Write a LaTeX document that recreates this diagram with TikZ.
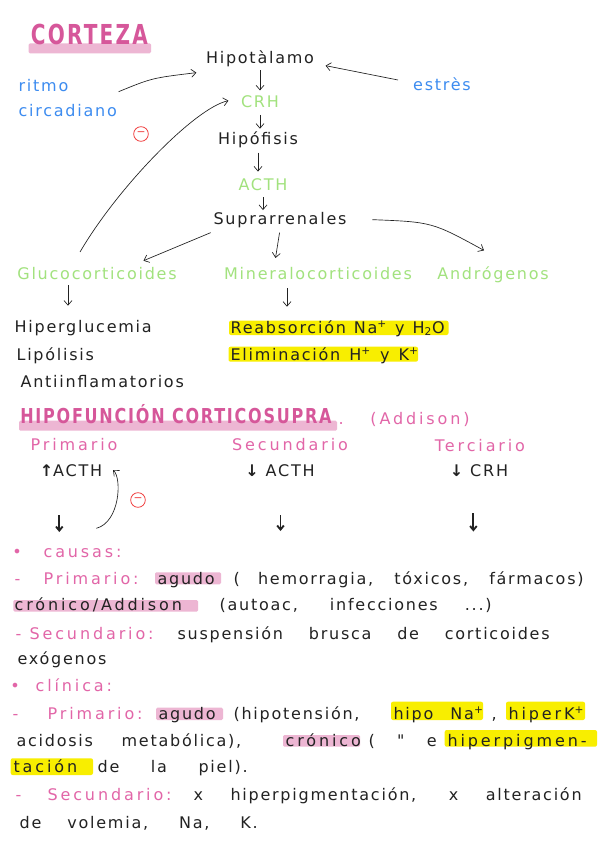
\documentclass[tikz,border=0pt]{standalone}
\usepackage{fontspec}
\setmainfont{DejaVu Sans}[LetterSpace=11]
\newfontfamily\pspc{DejaVu Sans}[LetterSpace=18]
\usetikzlibrary{arrows.meta}
\definecolor{inkc}{HTML}{222222}
\definecolor{bluec}{HTML}{3D8CF0}
\definecolor{greenc}{HTML}{A2E27E}
\definecolor{titlec}{HTML}{D6579A}
\definecolor{pinkc}{HTML}{E266A8}
\definecolor{pinkhl}{HTML}{EDB6D3}
\definecolor{yellowc}{HTML}{F8EE00}
\definecolor{redc}{HTML}{F03C3C}
\newcommand\spr[2]{\hbox to \dimexpr #1pt*3/4\relax{#2}}
\begin{document}
\begin{tikzpicture}[x=0.75pt,y=-0.75pt,
  basest/.style={inner sep=1pt, text height=9pt, text depth=2.5pt, font=\fontsize{12}{14}\selectfont},
  txt/.style={basest, text=inkc},
  blu/.style={basest, text=bluec},
  grn/.style={basest, text=greenc},
  pnk/.style={basest, text=pinkc, font=\fontsize{12}{14}\selectfont\pspc},
  arr/.style={draw=inkc, line width=0.5pt, -{Straight Barb[length=3.5pt,width=6pt]}},
  bigarr/.style={draw=inkc, line width=1.4pt, -{Straight Barb[length=3pt,width=5pt]}},
  minus/.style={circle, draw=redc, line width=0.6pt, minimum size=11pt, inner sep=0pt, text=redc, font=\fontsize{8}{8}\selectfont},
  hly/.style={fill=yellowc, rounded corners=1.5pt},
  hlp/.style={fill=pinkhl, rounded corners=1pt},
]
\useasboundingbox (0,0) rectangle (600,848);
\fill[white] (0,0) rectangle (600,848);

% ---------- title ----------
\fill[hlp] (28.7,43.3) rectangle (151,53.3);
\node[anchor=base west, text=titlec, inner sep=0pt, font=\fontsize{20.6}{22}\selectfont\bfseries] (corteza) at (30.6,45) {\scalebox{0.73}[1]{CORTEZA}};

% ---------- flow chart ----------
\node[txt, anchor=base] (hipo) at (260,64) {Hipotàlamo};
\node[blu, anchor=base west] (ritmo) at (17,92) {ritmo};
\node[blu, anchor=base west] (circ) at (17,117) {circadiano};
\node[blu, anchor=base] (estres) at (442,91) {estrès};
\node[grn, anchor=base] (crh) at (260,108) {CRH};
\node[txt, anchor=base] (hipof) at (258,145) {Hipófisis};
\node[grn, anchor=base] (acth) at (263,190.5) {ACTH};
\node[txt, anchor=base] (supra) at (280,225) {Suprarrenales};
\node[grn, anchor=base] (gluco) at (97,279) {Glucocorticoides};
\node[grn, anchor=base] (mineral) at (318,279) {Mineralocorticoides};
\node[grn, anchor=base] (andro) at (493,279) {Andrógenos};

\node[txt, anchor=base west] (hiperg) at (13,332.5) {Hiperglucemia};
\node[txt, anchor=base west] (lipo) at (15,360) {Lipólisis};
\node[txt, anchor=base west] (antii) at (19,387) {Antiinflamatorios};
\fill[hly] (229,320.7) rectangle (448.5,335);
\node[txt, anchor=base west] (reab) at (229,333) {\spr{214}{Reabsorción Na\textsuperscript{+} y H\textsubscript{2}O}};
\fill[hly] (228.5,346.7) rectangle (418,361.7);
\node[txt, anchor=base west] (elim) at (229,360) {\spr{188}{Eliminación H\textsuperscript{+} y K\textsuperscript{+}}};

\coordinate (ritmoend) at (118.6,91.7);
\draw[arr] (ritmoend) .. controls (152,78) .. ([shift={(-8,13)}]hipo.west);
\coordinate (estresend) at (398,80);
\draw[arr] (estresend) -- ([shift={(10,6)}]hipo.east);
\draw[arr, shorten <=1pt, shorten >=3pt] (hipo.south) -- (hipo.south |- crh.north);
\draw[arr, shorten <=1.5pt, shorten >=2pt] (crh.south) -- (crh.south |- hipof.north);
\draw[arr, shorten <=2pt, shorten >=4pt] (hipof.south) -- (hipof.south |- acth.north);
\draw[arr, shorten <=1.5pt, shorten >=1pt] (acth.south) -- (acth.south |- supra.north);
\draw[arr] ([shift={(-1.3,12)}]supra.west) -- ([shift={(46.5,-4.7)}]gluco.north);
\draw[arr, shorten <=2pt] (supra.south) -- ([shift={(-42.5,-7.4)}]mineral.north);
\draw[arr] ([shift={(24.3,-1)}]supra.east) .. controls (432,222) .. ([shift={(-9,-15)}]andro.north);
\coordinate (fbstart) at (80,252);
\draw[arr] (fbstart) .. controls (118,187) and (195,108) .. ([shift={(-11,-3)}]crh.west);
\node[minus] (m1) at (141,134) {−};
\coordinate (ga) at ([shift={(-29,1.3)}]gluco.south);
\draw[arr, shorten >=9.9pt] (ga) -- (ga |- hiperg.north);
\coordinate (ma) at ([shift={(-31,4.3)}]mineral.south);
\draw[arr, shorten >=9.5pt] (ma) -- (ma |- reab.north);

% ---------- hipofuncion ----------
\fill[hlp] (19,420.7) rectangle (337,430.7);
\node[anchor=base west, text=titlec, inner sep=0pt, font=\fontsize{15.4}{17}\selectfont\bfseries] (hipofun) at (20,423.3) {\scalebox{0.78}[1]{HIPOFUNCIÓN CORTICOSUPRA}};
\node[pnk, anchor=base west] (addison) at (337,424) {\spr{131}{. (Addison)}};

\node[pnk, anchor=base] (prim) at (74,450) {Primario};
\node[pnk, anchor=base] (secu) at (290,450) {Secundario};
\node[pnk, anchor=base] (terc) at (480,451) {Terciario};
\node[txt, anchor=base] (actup) at (71,476) {{\bfseries ↑}ACTH};
\node[txt, anchor=base] (actdn) at (280,476) {{\bfseries ↓} ACTH};
\node[txt, anchor=base] (crhdn) at (479,476) {{\bfseries ↓} CRH};

\coordinate (loopstart) at (96.4,528.3);
\coordinate (loopend) at (113,470);
\draw[arr] (loopstart) .. controls (120,522) and (122,478) .. (loopend);
\node[minus] (m2) at (138,500) {−};

\coordinate (d1a) at (59.3,515);  \coordinate (d1b) at (59.3,532);
\coordinate (d2a) at (280.5,515); \coordinate (d2b) at (280.5,531);
\coordinate (d3a) at (473.4,513); \coordinate (d3b) at (473.4,531.5);
\draw[bigarr] (d1a) -- (d1b);
\draw[bigarr] (d2a) -- (d2b);
\draw[bigarr] (d3a) -- (d3b);

% ---------- causas ----------
\node[pnk, anchor=base] (bul1) at (17,557.3) {•};
\node[pnk, anchor=base west] (causas) at (42,557.3) {causas:};
\node[pnk, anchor=base west] (p1lab) at (13,584) {\spr{124}{- Primario:}};
\fill[hlp] (155,572.3) rectangle (221,584.3);
\node[txt, anchor=base west] (agudo1) at (156,584) {agudo};
\node[txt, anchor=base west] (p1rest) at (232,584) {\spr{350}{( hemorragia, tóxicos, fármacos)}};
\fill[hlp] (13.4,600) rectangle (198,611.7);
\node[txt, anchor=base west, font=\fontsize{12}{14}\selectfont\pspc] (cron1) at (13,610.7) {crónico/Addison};
\node[txt, anchor=base west] (cron1rest) at (218,610.7) {\spr{272}{(autoac, infecciones ...)}};
\node[pnk, anchor=base west] (s1lab) at (14,639.3) {\spr{138}{- Secundario:}};
\node[txt, anchor=base west] (s1rest) at (176,639.3) {\spr{372}{suspensión brusca de corticoides}};
\node[txt, anchor=base west] (exog) at (16,664) {exógenos};

% ---------- clinica ----------
\node[pnk, anchor=base] (bul2) at (15,691.7) {•};
\node[pnk, anchor=base west] (clin) at (34,691.7) {clínica:};
\node[pnk, anchor=base west] (p2lab) at (11,719.3) {\spr{130}{- Primario:}};
\fill[hlp] (156,707.7) rectangle (223,720);
\node[txt, anchor=base west] (agudo2) at (157,719.3) {agudo};
\node[txt, anchor=base west] (p2a) at (232,719.3) {(hipotensión,};
\fill[hly] (391,701.7) rectangle (483,720);
\node[txt, anchor=base west] (hna) at (392,719.3) {\spr{90}{hipo Na\textsuperscript{+}}};
\node[txt, anchor=base west] (comma) at (490,719.3) {,};
\fill[hly] (506,701.7) rectangle (585,720);
\node[txt, anchor=base west, font=\fontsize{12}{14}\selectfont\pspc] (hk) at (507,719.3) {hiperK\textsuperscript{+}};

\node[txt, anchor=base west] (acid) at (15,746) {acidosis};
\node[txt, anchor=base west] (metab) at (120,746) {\spr{158}{metabólica),}};
\fill[hlp] (283,735) rectangle (360,746.7);
\node[txt, anchor=base west, font=\fontsize{12}{14}\selectfont\pspc] (cron2) at (284,746) {crónico};
\node[txt, anchor=base west] (ditto) at (367,746) {\spr{68}{( \textquotedbl{} e}};
\fill[hly] (444.7,730) rectangle (597,746.7);
\node[txt, anchor=base west, font=\fontsize{12}{14}\selectfont\pspc] (hpig) at (446,746) {hiperpigmen-};

\fill[hly] (10.7,758.3) rectangle (93,775);
\node[txt, anchor=base west, font=\fontsize{12}{14}\selectfont\pspc] (tacion) at (12,772.7) {tación};
\node[txt, anchor=base west] (piel) at (96,772.7) {\spr{150}{de la piel).}};

\node[pnk, anchor=base west] (s2lab) at (14,800) {\spr{156}{- Secundario:}};
\node[txt, anchor=base west] (s2rest) at (192,800) {\spr{388}{x hiperpigmentación, x alteración}};
\node[txt, anchor=base west] (volemia) at (18,828.3) {\spr{238}{de volemia, Na, K.}};
\end{tikzpicture}
\end{document}
